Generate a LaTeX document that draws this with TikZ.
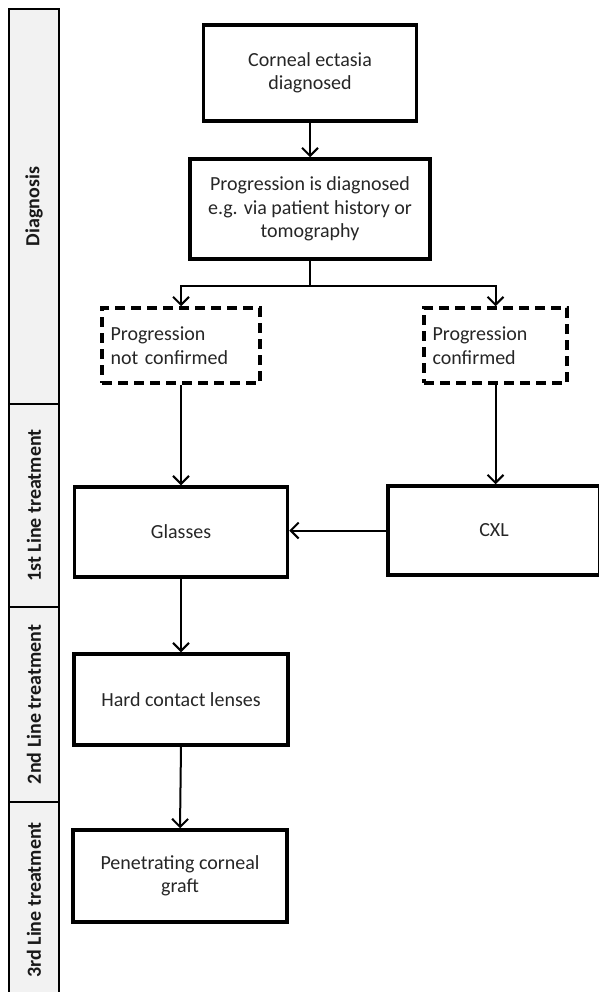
\documentclass[tikz,border=0pt]{standalone}
\usepackage{fontspec}
\setmainfont{Carlito}
\usetikzlibrary{arrows.meta}
\begin{document}
\begin{tikzpicture}[x=1pt,y=-1pt,
  every node/.style={font=\fontsize{20}{23.5}\selectfont, text=black!85},
  mainbox/.style={draw=black, line width=3.5pt, align=center, inner sep=0pt},
  dashbox/.style={draw=black, line width=3.5pt, dash pattern=on 10pt off 6pt, align=left, inner sep=0pt},
  sidebox/.style={draw=black, line width=1.5pt, fill=black!5, inner sep=0pt},
  sidelabel/.style={rotate=90, font=\fontsize{20}{23}\selectfont\bfseries, text=black!90},
  arr/.style={line width=2pt, -{Straight Barb[length=8pt,width=16pt,line width=2pt]}},
  ln/.style={line width=2pt}
]
\useasboundingbox (0,0) rectangle (598,992);

% sidebar
\node[sidebox, minimum width=50pt, minimum height=395pt] (sd1) at (34,206.5) {};
\node[sidebox, minimum width=50pt, minimum height=203pt] (sd2) at (34,505.5) {};
\node[sidebox, minimum width=50pt, minimum height=195pt] (sd3) at (34,704.5) {};
\node[sidebox, minimum width=50pt, minimum height=210pt] (sd4) at (34,907) {};
\node[sidelabel] (l1) at (34,206.5) {Diagnosis};
\node[sidelabel] (l2) at (34,505.5) {1st Line treatment};
\node[sidelabel] (l3) at (34,704.5) {2nd Line treatment};
\node[sidelabel] (l4) at (34,900) {3rd Line treatment};

% main boxes
\node[mainbox, minimum width=213pt, minimum height=96pt] (c1) at (310,73) {Corneal ectasia\\diagnosed};
\node[mainbox, minimum width=240pt, minimum height=100pt] (prog) at (310,209) {Progression is diagnosed\\e.g. via patient history or\\tomography};
\node[dashbox, minimum width=158pt, minimum height=75pt, text width=141pt, inner xsep=8.5pt] (notc) at (181,345.5) {Progression\\not confirmed};
\node[dashbox, minimum width=143pt, minimum height=75pt, text width=126pt, inner xsep=8.5pt] (conf) at (495.5,345.5) {Progression\\confirmed};
\node[mainbox, minimum width=213pt, minimum height=90pt] (glasses) at (181,532) {Glasses};
\node[mainbox, minimum width=212pt, minimum height=89pt] (cxl) at (494,530.5) {CXL};
\node[mainbox, minimum width=214pt, minimum height=91pt] (hcl) at (181,699.5) {Hard contact lenses};
\node[mainbox, minimum width=214pt, minimum height=92pt] (pcg) at (180,876) {Penetrating corneal\\graft};

% connectors
\draw[arr] (c1.south) -- (prog.north);
\draw[ln] (prog.south) -- ++(0,25) coordinate (split);
\draw[arr] (split) -| (notc.north);
\draw[arr] (split) -| (conf.north);
\draw[arr] (notc.south) -- (glasses.north);
\draw[arr] (conf.south) -- (conf.south |- cxl.north);
\draw[arr] (cxl.west) -- (cxl.west -| glasses.east);
\draw[arr] (glasses.south) -- (hcl.north);
\draw[arr] (hcl.south) -- (pcg.north);
\end{tikzpicture}
\end{document}
